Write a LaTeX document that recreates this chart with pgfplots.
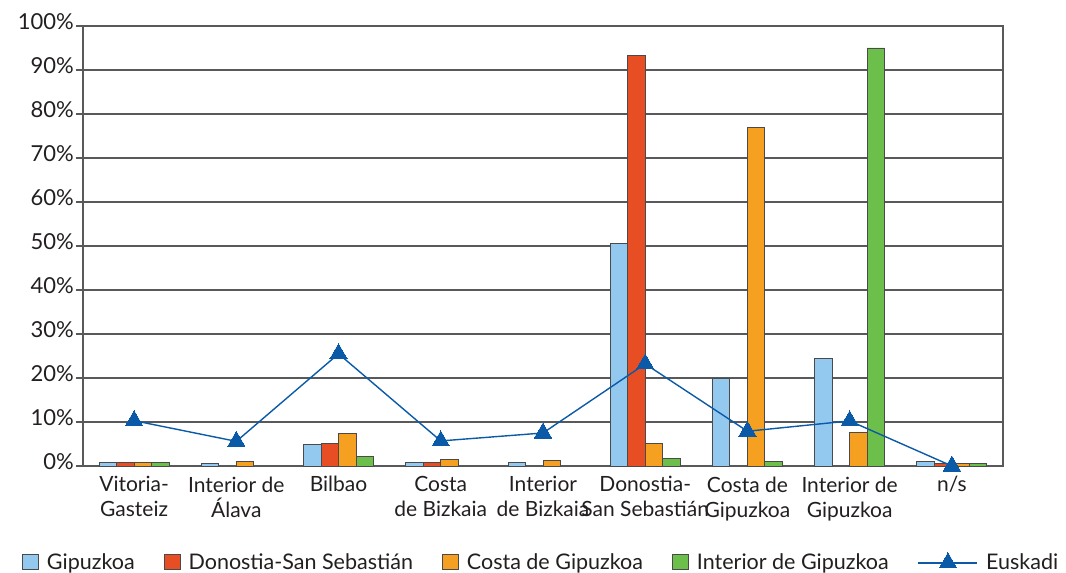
\documentclass[border=0pt]{standalone}
\usepackage{pgfplots}
\pgfplotsset{compat=1.18}
\usepackage{fontspec}
\setmainfont{Lato}
\definecolor{cgip}{HTML}{93C9EF}
\definecolor{cdon}{HTML}{E84E23}
\definecolor{ccos}{HTML}{F6A021}
\definecolor{cint}{HTML}{6CBF4B}
\definecolor{ceus}{HTML}{0B5AA8}
\definecolor{cgrid}{HTML}{58595B}
\definecolor{cbord}{HTML}{4A4A4A}
\definecolor{ctext}{HTML}{231F20}
\begin{document}
\begin{tikzpicture}[x=1pt,y=1pt]
\useasboundingbox (-83,-107) rectangle (983,466);
\begin{axis}[
  at={(0pt,0pt)}, anchor=south west,
  scale only axis, width=920pt, height=440pt,
  xmin=-0.5, xmax=8.5, ymin=0, ymax=100,
  clip=false,
  axis line style={draw=cgrid, line width=1.2pt},
  xtick={0,...,8},
  xticklabels={{Vitoria-\\Gasteiz},{Interior de\\Álava},Bilbao,{Costa\\de Bizkaia},{Interior\\de Bizkaia},{Donostia-\\San Sebastián},{Costa de\\Gipuzkoa},{Interior de\\Gipuzkoa},n/s},
  x tick style={draw=none},
  xtick pos=bottom, ytick pos=left,
  xticklabel style={align=center, font=\fontsize{21}{25}\selectfont, text=ctext, yshift=0pt},
  ytick={0,10,...,100},
  yticklabels={0\%,10\%,20\%,30\%,40\%,50\%,60\%,70\%,80\%,90\%,100\%},
  y tick style={draw=cgrid, line width=1.2pt},
  tick align=outside, major tick length=7pt,
  ymajorgrids, grid style={draw=cgrid, line width=1.2pt},
  yticklabel style={font=\fontsize{22}{25}\selectfont, text=ctext, inner sep=2pt, yshift=4pt},
  legend columns=5,
  legend style={at={(0.498,-0.22)}, anchor=center, draw=none, fill=none,
    font=\fontsize{21.5}{24}\selectfont, text=ctext,
    /tikz/every even column/.append style={column sep=27pt},
    /tikz/every odd column/.append style={column sep=6pt}},
  barleg/.style={legend image code/.code={\draw[##1,draw=cbord,line width=0.9pt] (0pt,-7pt) rectangle (16pt,8pt);}},
  lineleg/.style={legend image code/.code={\draw[##1, mark repeat=2, mark phase=2] plot coordinates {(0pt,0pt) (29.5pt,0pt) (59pt,0pt)};}},
]
\addplot[ybar, bar width=17.5pt, bar shift=-26.25pt, fill=cgip, draw=cbord, line width=0.9pt, barleg]
  coordinates {(0,0.8)(1,0.6)(2,4.8)(3,0.8)(4,0.8)(5,50.6)(6,19.8)(7,24.4)(8,1.1)};
\addlegendentry{Gipuzkoa}
\addplot[ybar, bar width=17.5pt, bar shift=-8.75pt, fill=cdon, draw=cbord, line width=0.9pt, barleg]
  coordinates {(0,0.8)(2,5.2)(3,0.8)(5,93.2)(8,0.5)};
\addlegendentry{Donostia-San Sebastián}
\addplot[ybar, bar width=17.5pt, bar shift=8.75pt, fill=ccos, draw=cbord, line width=0.9pt, barleg]
  coordinates {(0,0.8)(1,1.0)(2,7.5)(3,1.5)(4,1.3)(5,5.2)(6,77.0)(7,7.7)(8,0.5)};
\addlegendentry{Costa de Gipuzkoa}
\addplot[ybar, bar width=17.5pt, bar shift=26.25pt, fill=cint, draw=cbord, line width=0.9pt, barleg]
  coordinates {(0,0.8)(2,2.2)(5,1.7)(6,1.1)(7,95.0)(8,0.6)};
\addlegendentry{Interior de Gipuzkoa}
\addplot[sharp plot, draw=ceus, line width=1.4pt, mark=triangle*, mark size=10pt,
  mark options={solid, fill=ceus, draw=ceus, line width=0pt}, lineleg]
  coordinates {(0,10.3)(1,5.6)(2,25.5)(3,5.7)(4,7.5)(5,23.2)(6,7.9)(7,10.25)(8,0)};
\addlegendentry{Euskadi}
\end{axis}
\end{tikzpicture}
\end{document}
